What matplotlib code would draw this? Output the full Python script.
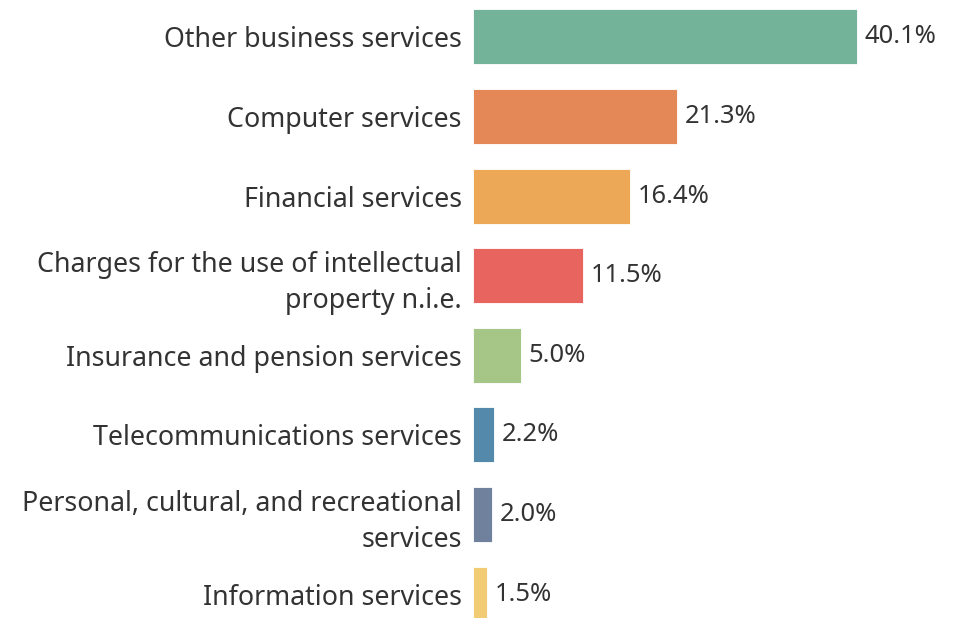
import matplotlib
matplotlib.use("Agg")
import matplotlib.pyplot as plt

categories = [
    "Other business services",
    "Computer services",
    "Financial services",
    "Charges for the use of intellectual\nproperty n.i.e.",
    "Insurance and pension services",
    "Telecommunications services",
    "Personal, cultural, and recreational\nservices",
    "Information services",
]
values = [40.1, 21.3, 16.4, 11.5, 5.0, 2.2, 2.0, 1.5]
value_labels = ["40.1%", "21.3%", "16.4%", "11.5%", "5.0%", "2.2%", "2.0%", "1.5%"]
colors = ["#72b39a", "#e58857", "#eca857", "#e8645e", "#a6c688", "#5489ab", "#6f819c", "#f2cc74"]

plt.rcParams['font.family'] = ['Noto Sans', 'DejaVu Sans']

W, H = 958, 618
fig = plt.figure(figsize=(W / 100, H / 100), dpi=100)
left_px = 473
top_px = -3
bot_px = 634
ax = fig.add_axes([left_px / W, (H - bot_px) / H, 1 - left_px / W, (bot_px - top_px) / H])

y = list(range(len(categories)))
ax.barh(y, values, height=0.69, color=colors, edgecolor="white", linewidth=0.6)
ax.set_ylim(len(categories) - 0.5, -0.5)
ax.set_xlim(0, (W - left_px) / 9.58)

for yi, v, lab in zip(y, values, value_labels):
    ax.text(v + 0.8, yi, lab, va="center", ha="left", fontsize=18.4, color="#333333",
            fontweight="medium")

ax.set_yticks(y)
ax.set_yticklabels(categories, fontsize=19.3, color="#333333", linespacing=1.38)
ax.tick_params(axis="y", length=0, pad=8)
ax.set_xticks([])
for s in ax.spines.values():
    s.set_visible(False)

fig.savefig("out.png", dpi=100)
